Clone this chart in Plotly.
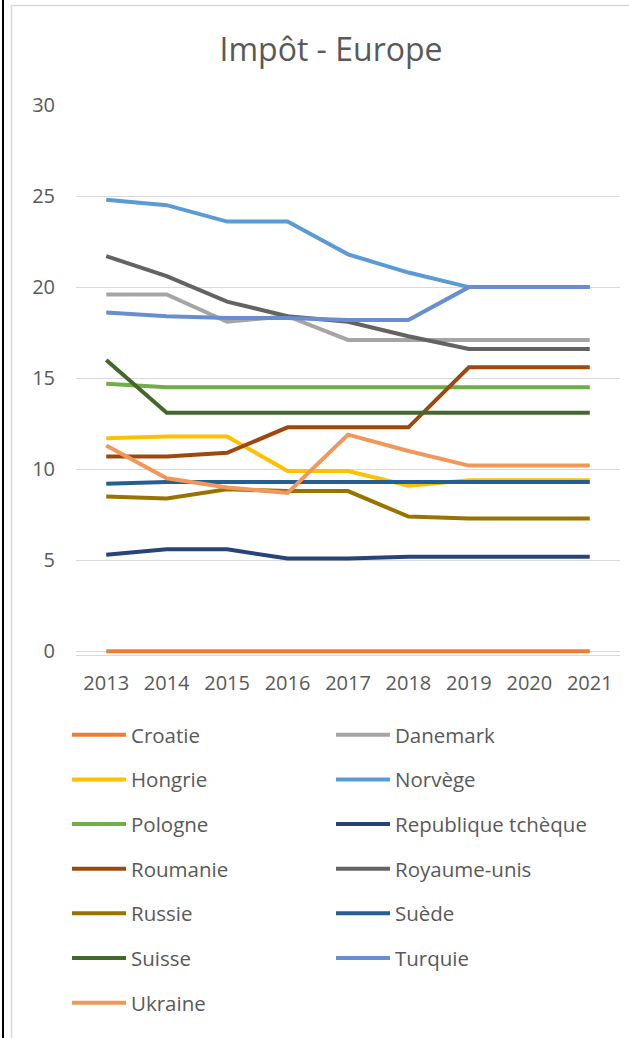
import plotly.graph_objects as go

years = ["2013", "2014", "2015", "2016", "2017", "2018", "2019", "2020", "2021"]

croatie = [0, 0, 0, 0, 0, 0, 0, 0, 0]
danemark = [19.6, 19.6, 18.1, 18.4, 17.1, 17.1, 17.1, 17.1, 17.1]
hongrie = [11.7, 11.8, 11.8, 9.9, 9.9, 9.1, 9.4, 9.4, 9.4]
norvege = [24.8, 24.5, 23.6, 23.6, 21.8, 20.8, 20.0, 20.0, 20.0]
pologne = [14.7, 14.5, 14.5, 14.5, 14.5, 14.5, 14.5, 14.5, 14.5]
rep_tcheque = [5.3, 5.6, 5.6, 5.1, 5.1, 5.2, 5.2, 5.2, 5.2]
roumanie = [10.7, 10.7, 10.9, 12.3, 12.3, 12.3, 15.6, 15.6, 15.6]
royaume_unis = [21.7, 20.6, 19.2, 18.4, 18.1, 17.3, 16.6, 16.6, 16.6]
russie = [8.5, 8.4, 8.9, 8.8, 8.8, 7.4, 7.3, 7.3, 7.3]
suede = [9.2, 9.3, 9.3, 9.3, 9.3, 9.3, 9.3, 9.3, 9.3]
suisse = [16.0, 13.1, 13.1, 13.1, 13.1, 13.1, 13.1, 13.1, 13.1]
turquie = [18.6, 18.4, 18.3, 18.3, 18.2, 18.2, 20.0, 20.0, 20.0]
ukraine = [11.3, 9.5, 9.0, 8.7, 11.9, 11.0, 10.2, 10.2, 10.2]

series = [
    ("Croatie", croatie, "#ED7D31", "legend"),
    ("Danemark", danemark, "#A5A5A5", "legend2"),
    ("Hongrie", hongrie, "#FFC000", "legend"),
    ("Norvège", norvege, "#5B9BD5", "legend2"),
    ("Pologne", pologne, "#70AD47", "legend"),
    ("Republique tchèque", rep_tcheque, "#264478", "legend2"),
    ("Roumanie", roumanie, "#9E480E", "legend"),
    ("Royaume-unis", royaume_unis, "#636363", "legend2"),
    ("Russie", russie, "#997300", "legend"),
    ("Suède", suede, "#255E91", "legend2"),
    ("Suisse", suisse, "#43682B", "legend"),
    ("Turquie", turquie, "#698ED0", "legend2"),
    ("Ukraine", ukraine, "#F1975A", "legend"),
]

FONT = "Open Sans"
TXT = "#595959"

fig = go.Figure()
for name, vals, color, leg in series:
    fig.add_trace(go.Scatter(
        x=years, y=vals, name=name, mode="lines",
        line=dict(color=color, width=4),
        legend=leg, legendgroup=name,
    ))

W, H = 629, 1038
L, R, T, B = 76, 9, 105, 383.4
pw = W - L - R
ph = H - T - B

def px_x(p):
    return (p - L) / pw

def px_y(p):
    return (H - B - p) / ph

legend_common = dict(
    orientation="v", xanchor="left", yanchor="top",
    font=dict(family=FONT, size=20.5, color=TXT),
    itemwidth=54, tracegroupgap=15.0, bgcolor="rgba(0,0,0,0)",
    itemclick=False, itemdoubleclick=False,
)

fig.update_layout(
    width=W, height=H,
    margin=dict(l=L, r=R, t=T, b=B),
    paper_bgcolor="white", plot_bgcolor="white",
    font=dict(family=FONT, color=TXT),
    title=dict(text="Impôt - Europe", x=331 / W, xanchor="center",
               y=1 - 50 / H, yanchor="middle",
               font=dict(family=FONT, size=32, color=TXT)),
    xaxis=dict(type="category", range=[-0.5, 8.5], showgrid=False,
               showline=True, linecolor="#D9D9D9", ticks="",
               tickfont=dict(family=FONT, size=20, color=TXT),
               ticklabelstandoff=10, fixedrange=True),
    yaxis=dict(range=[-0.2, 30], tickvals=[0, 5, 10, 15, 20, 25, 30],
               showgrid=True, gridcolor="#D9D9D9", gridwidth=1,
               zeroline=False, showline=False, ticks="",
               tickfont=dict(family=FONT, size=20, color=TXT),
               ticklabelstandoff=20, fixedrange=True),
    legend=dict(x=px_x(67), y=px_y(714.5), **legend_common),
    legend2=dict(x=px_x(331), y=px_y(714.5), **legend_common),
    shapes=[
        dict(type="line", xref="paper", yref="paper",
             x0=px_x(3), x1=px_x(3), y0=px_y(H + 5), y1=px_y(-5),
             line=dict(color="black", width=2)),
        dict(type="rect", xref="paper", yref="paper",
             x0=px_x(11.5), x1=px_x(W + 20), y0=px_y(H + 20), y1=px_y(5.5),
             line=dict(color="#D9D9D9", width=1.5), fillcolor="rgba(0,0,0,0)"),
    ],
)

fig.write_html("out.html", config={"displayModeBar": False},
               post_script="document.body.style.margin='0';")
